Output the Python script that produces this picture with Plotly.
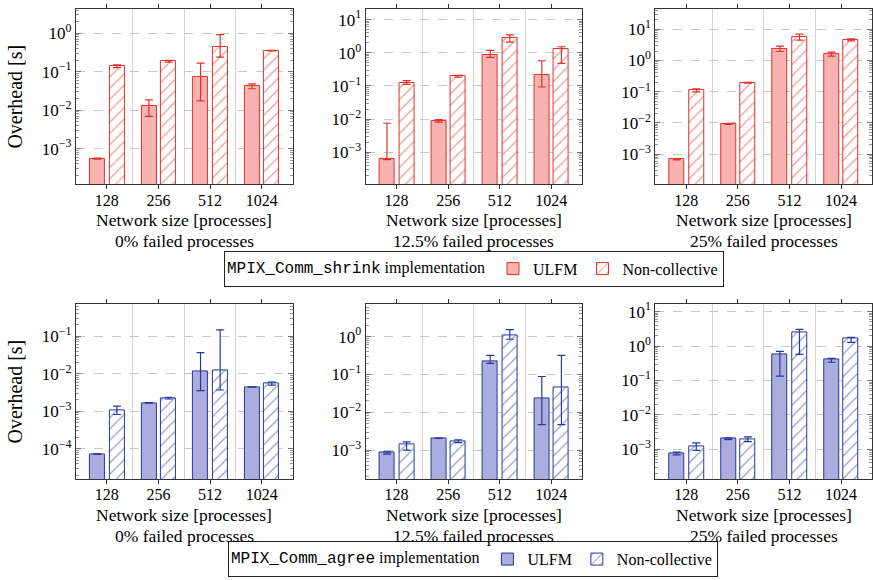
import plotly.graph_objects as go

# ---------------- data ----------------
categories = ["128", "256", "512", "1024"]
x_title = "Network size [processes]"
panel_titles = ["0% failed processes", "12.5% failed processes", "25% failed processes"]
y_title = "Overhead [s]"

# shrink (top row): value, upper bound, lower bound of error bar
shrink_ulfm = [
    [5.5e-4, 0.013, 0.074, 0.0426],
    [6.5e-4, 0.0088, 0.83, 0.208],
    [6.8e-4, 0.0092, 2.3, 1.59],
]
shrink_ulfm_hi = [
    [5.7e-4, 0.0186, 0.166, 0.048],
    [7.5e-3, 0.0096, 1.175, 0.575],
    [7.0e-4, 0.0094, 2.87, 1.85],
]
shrink_ulfm_lo = [
    [5.3e-4, 0.0069, 0.0175, 0.036],
    [6.0e-4, 0.0081, 0.724, 0.0927],
    [6.6e-4, 0.0090, 1.94, 1.38],
]
shrink_nc = [
    [0.139, 0.187, 0.436, 0.351],
    [0.125, 0.194, 2.70, 1.26],
    [0.112, 0.193, 5.58, 4.59],
]
shrink_nc_hi = [
    [0.150, 0.197, 0.92, 0.356],
    [0.144, 0.208, 3.47, 1.515],
    [0.124, 0.200, 6.96, 4.95],
]
shrink_nc_lo = [
    [0.128, 0.177, 0.24, 0.346],
    [0.111, 0.185, 2.09, 0.478],
    [0.099, 0.187, 4.47, 4.26],
]

# agree (bottom row)
agree_ulfm = [
    [7.2e-5, 1.67e-3, 0.0112, 4.43e-3],
    [8.5e-4, 2.06e-3, 0.222, 0.0234],
    [7.5e-4, 2.03e-3, 0.575, 0.413],
]
agree_ulfm_hi = [
    [7.3e-5, 1.69e-3, 0.0363, 4.48e-3],
    [9.0e-4, 2.08e-3, 0.318, 0.088],
    [8.3e-4, 2.16e-3, 0.70, 0.44],
]
agree_ulfm_lo = [
    [7.1e-5, 1.65e-3, 3.54e-3, 4.38e-3],
    [7.8e-4, 2.04e-3, 0.197, 4.7e-3],
    [6.9e-4, 1.92e-3, 0.133, 0.338],
]
agree_nc = [
    [1.05e-3, 2.22e-3, 0.0119, 5.52e-3],
    [1.44e-3, 1.69e-3, 1.10, 0.0464],
    [1.25e-3, 2.0e-3, 2.53, 1.63],
]
agree_nc_hi = [
    [1.365e-3, 2.36e-3, 0.147, 5.98e-3],
    [1.65e-3, 1.88e-3, 1.52, 0.318],
    [1.54e-3, 2.29e-3, 3.03, 1.78],
]
agree_nc_lo = [
    [8.2e-4, 2.12e-3, 3.68e-3, 4.99e-3],
    [1.0e-3, 1.57e-3, 0.85, 4.7e-3],
    [9.3e-4, 1.67e-3, 0.575, 1.28],
]

# y ranges (log10) per panel
y_ranges = [
    [-3.93, 0.63], [-3.97, 1.32], [-3.97, 1.65],
    [-4.8, -0.155], [-3.76, 0.85], [-3.86, 1.21],
]
decade_vals = [1e-4, 1e-3, 1e-2, 1e-1, 1e0, 1e1]
decade_text = ["10<sup>−4</sup>", "10<sup>−3</sup>", "10<sup>−2</sup>",
               "10<sup>−1</sup>", "10<sup>0</sup>", "10<sup>1</sup>"]
minor_vals = [k * 10.0 ** e for e in range(-5, 2) for k in range(2, 10)]

# ---------------- styles ----------------
FONT = "Liberation Serif, Times New Roman, serif"
MONO = "Liberation Mono"
FS = 17.5
XFS = 16
YFS = 17
LFS = 16
RED = "#e2312b"
RED_FILL = "#f8b3b1"
BLUE = "#27389c"
BLUE_FILL = "#abaddf"
GRID = "#d4d4d4"
AXIS = "#333333"

x_domains = [[76 / 873, 293 / 873], [366 / 873, 583 / 873], [656 / 873, 1.0]]
y_domains = [[1 - 181 / 580, 1 - 4 / 580], [1 - 478 / 580, 1 - 302 / 580]]
# centre heights (px from top) of the two x-title lines, per row
title_line_px = [[217, 238], [514, 536]]

fig = go.Figure()

rows = [
    (shrink_ulfm, shrink_ulfm_hi, shrink_ulfm_lo, shrink_nc, shrink_nc_hi, shrink_nc_lo,
     RED, RED_FILL, "legend"),
    (agree_ulfm, agree_ulfm_hi, agree_ulfm_lo, agree_nc, agree_nc_hi, agree_nc_lo,
     BLUE, BLUE_FILL, "legend2"),
]

xs = list(range(len(categories)))
BW = 0.29
annotations = []

for r, (u, uhi, ulo, n, nhi, nlo, col, fill, leg) in enumerate(rows):
    for c in range(3):
        idx = r * 3 + c + 1
        xa = "x" if idx == 1 else f"x{idx}"
        ya = "y" if idx == 1 else f"y{idx}"
        show = c == 0
        fig.add_trace(go.Bar(
            x=xs, y=u[c], width=BW, offset=-0.33,
            name="ULFM", legend=leg, showlegend=show,
            marker=dict(color=fill, line=dict(color=col, width=1)),
            error_y=dict(type="data", symmetric=False,
                         array=[h - v for h, v in zip(uhi[c], u[c])],
                         arrayminus=[v - l for v, l in zip(u[c], ulo[c])],
                         color=col, thickness=1.2, width=4),
            xaxis=xa, yaxis=ya,
        ))
        fig.add_trace(go.Bar(
            x=xs, y=n[c], width=BW, offset=0.05,
            name="Non-collective", legend=leg, showlegend=show,
            marker=dict(color="white", line=dict(color=col, width=1),
                        pattern=dict(shape="/", fgcolor=col, bgcolor="white",
                                     size=8, solidity=0.15)),
            error_y=dict(type="data", symmetric=False,
                         array=[h - v for h, v in zip(nhi[c], n[c])],
                         arrayminus=[v - l for v, l in zip(n[c], nlo[c])],
                         color=col, thickness=1.2, width=4),
            xaxis=xa, yaxis=ya,
        ))

        xkey = "xaxis" if idx == 1 else f"xaxis{idx}"
        ykey = "yaxis" if idx == 1 else f"yaxis{idx}"
        fig.layout[xkey] = dict(
            domain=x_domains[c], anchor=ya, range=[-0.6, 3.6],
            tickmode="array", tickvals=xs, ticktext=categories,
            ticks="outside", ticklen=4, tickcolor=AXIS, tickwidth=1,
            showline=True, linecolor=AXIS, linewidth=1, mirror="ticks",
            showgrid=False, zeroline=False,
            minor=dict(tickmode="array", tickvals=[0.5, 1.5, 2.5], ticks="",
                       showgrid=True, gridcolor=GRID, gridwidth=1.3),
            tickfont=dict(size=XFS, family=FONT, color="black"),
            ticklabelstandoff=-3,
        )
        ydict = dict(
            domain=y_domains[r], anchor=xa, type="log", range=y_ranges[idx - 1],
            tickmode="array", tickvals=decade_vals, ticktext=decade_text,
            ticks="inside", ticklen=5, tickcolor="#777", tickwidth=1,
            showline=True, linecolor=AXIS, linewidth=1, mirror="ticks",
            showgrid=True, gridcolor="#c8c8c8", griddash="dash", gridwidth=1,
            zeroline=False,
            minor=dict(tickmode="array", tickvals=minor_vals, ticks="inside",
                       ticklen=3, tickcolor="#999", showgrid=False),
            tickfont=dict(size=YFS, family=FONT, color="black"),
        )
        if c == 0:
            ydict["title"] = dict(text=y_title, standoff=13,
                                  font=dict(size=20, family=FONT, color="black"))
        fig.layout[ykey] = ydict

        for line_text, py in zip([x_title, panel_titles[c]], title_line_px[r]):
            annotations.append(dict(
                text=line_text, xref=f"{xa} domain", x=0.5, xanchor="center",
                yref="paper", y=1 - py / 580, yanchor="middle", borderpad=0,
                showarrow=False, font=dict(size=FS, family=FONT, color="black"),
            ))

legend_common = dict(
    orientation="h", xanchor="center", yanchor="middle",
    bgcolor="white", bordercolor="#222", borderwidth=1,
    font=dict(size=LFS, family=FONT, color="black"),
    itemwidth=30, tracegroupgap=0,
)
fig.update_layout(
    width=873, height=580,
    margin=dict(l=0, r=0, t=0, b=0),
    paper_bgcolor="white", plot_bgcolor="white",
    barmode="overlay", bargap=0,
    font=dict(family=FONT, size=FS, color="black"),
    annotations=annotations,
    legend=dict(
        x=474.5 / 873, y=1 - 266 / 580,
        title=dict(text=f"<span style='font-family:{MONO}'>MPIX_Comm_shrink</span> implementation",
                   side="left", font=dict(size=LFS, family=FONT)),
        **legend_common,
    ),
    legend2=dict(
        x=473.5 / 873, y=1 - 559 / 580,
        title=dict(text=f"<span style='font-family:{MONO}'>MPIX_Comm_agree</span> implementation",
                   side="left", font=dict(size=LFS, family=FONT)),
        **legend_common,
    ),
)

fig.write_html(
    "out.html",
    config={"displayModeBar": False},
    post_script="document.body.style.margin='0';document.body.style.overflow='hidden';",
)
